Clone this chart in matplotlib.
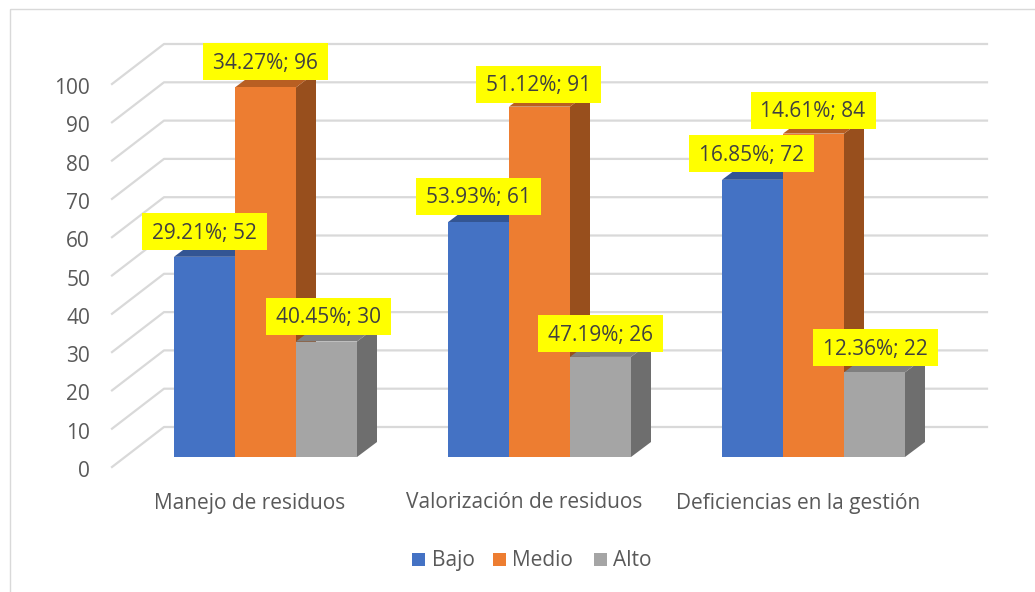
import matplotlib
matplotlib.use('Agg')
import matplotlib.pyplot as plt
from matplotlib.patches import Polygon, Rectangle

categories = ['Manejo de residuos', 'Valorización de residuos', 'Deficiencias en la gestión']
series = ['Bajo', 'Medio', 'Alto']
bajo = [52, 61, 72]
medio = [96, 91, 84]
alto = [30, 26, 22]
bajo_pct = ['29.21%', '53.93%', '16.85%']
medio_pct = ['34.27%', '51.12%', '14.61%']
alto_pct = ['40.45%', '47.19%', '12.36%']
yticks = list(range(0, 101, 10))

front = {'Bajo': '#4472C4', 'Medio': '#ED7D31', 'Alto': '#A5A5A5'}
top = {'Bajo': '#335593', 'Medio': '#B85F22', 'Alto': '#7F7F7F'}
side = {'Bajo': '#2F5597', 'Medio': '#984F1D', 'Alto': '#6E6E6E'}
TXT = '#404040'
AXT = '#595959'
FS = 15

plt.rcParams['font.family'] = ['Open Sans', 'DejaVu Sans']
fig = plt.figure(figsize=(10.35, 5.92), dpi=100)
ax = fig.add_axes([0, 0, 1, 1])
ax.set_xlim(0, 1035)
ax.set_ylim(592, 0)
ax.axis('off')

# chart border
ax.add_patch(Rectangle((9.5, 8.5), 1040, 600, fill=False, ec='#D9D9D9', lw=1))

y0 = 467
unit = 3.83
dx, dy = 52, -40  # wall depth offset
x_left = 112
x_right = 935
bar_dx, bar_dy = 20, -15

def Y(v):
    return y0 - v * unit

for t in yticks:
    ax.plot([x_left, x_left + dx, x_right + dx], [Y(t), Y(t) + dy, Y(t) + dy], color='#D9D9D9', lw=1.6, zorder=1)
    ax.text(90, Y(t) + 4.5, str(t), ha='right', va='center', fontsize=FS, color=AXT)

group_x = [174, 448, 722]
bw = 61
base = 457
bar_unit = 3.85

def bar_y(v):
    return base - v * bar_unit

def bar(x, v, name, z):
    yt = bar_y(v)
    ax.add_patch(Polygon([(x + bw, yt), (x + bw + bar_dx, yt + bar_dy), (x + bw + bar_dx, base + bar_dy), (x + bw, base)], fc=side[name], ec='none', zorder=z))
    ax.add_patch(Polygon([(x, yt), (x + bar_dx, yt + bar_dy), (x + bw + bar_dx, yt + bar_dy), (x + bw, yt)], fc=top[name], ec='none', zorder=z))
    ax.add_patch(Rectangle((x, yt), bw, v * bar_unit, fc=front[name], ec='none', zorder=z + 0.1))

def label(xc, yc, s):
    ax.add_patch(Rectangle((xc - 62.5, yc - 18.5), 125, 37.5, fc='#FFFF00', ec='none', zorder=19))
    ax.text(xc, yc + 2, s, ha='center', va='center', fontsize=FS, color=TXT, zorder=20)

for i, gx in enumerate(group_x):
    bar(gx, bajo[i], 'Bajo', 3)
    bar(gx + bw, medio[i], 'Medio', 5)
    bar(gx + 2 * bw, alto[i], 'Alto', 7)
    ax.text(gx + 76, 503, categories[i], ha='center', va='center', fontsize=FS, color=AXT)

label_pos_b = [(204.5, 231), (478, 196), (751.5, 153)]
label_pos_m = [(265.5, 61), (538.5, 84), (813, 110)]
label_pos_a = [(328, 316), (600, 333), (875, 347)]
for i in range(3):
    label(*label_pos_b[i], f'{bajo_pct[i]}; {bajo[i]}')
    label(*label_pos_m[i], f'{medio_pct[i]}; {medio[i]}')
    label(*label_pos_a[i], f'{alto_pct[i]}; {alto[i]}')

# legend
for name, sx, tx in zip(series, [412, 493, 594], [432, 512, 613]):
    ax.add_patch(Rectangle((sx, 553), 13, 13, fc=front[name], ec='none'))
    ax.text(tx, 560.5, name, ha='left', va='center', fontsize=FS, color=AXT)

fig.savefig('out.png', dpi=100)
